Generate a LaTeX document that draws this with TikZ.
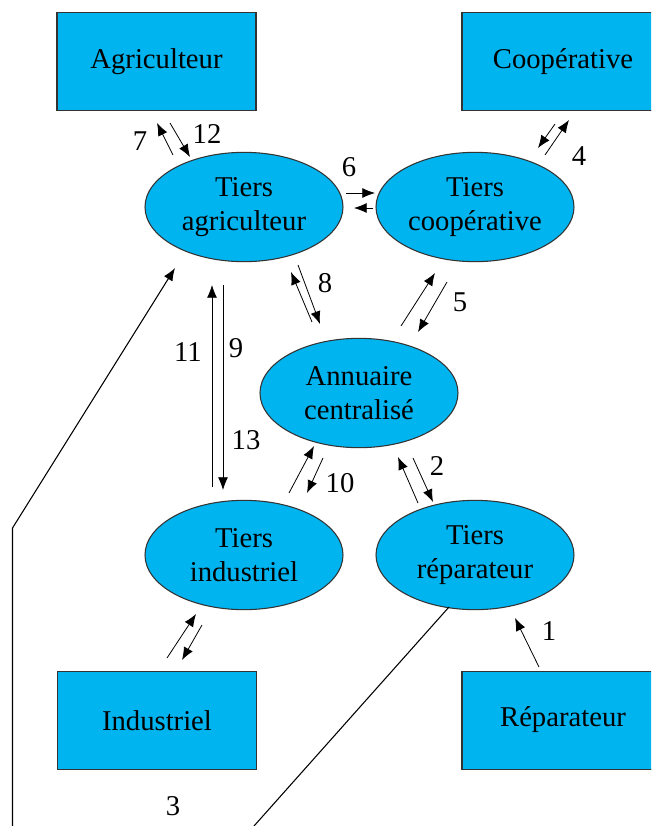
\documentclass[tikz,border=0pt]{standalone}
\usepackage{fontspec}
\setmainfont{Liberation Serif}
\newfontfamily\labelfont{Liberation Serif}
\usetikzlibrary{shapes.geometric,arrows.meta}
\definecolor{boxblue}{RGB}{0,180,240}
\tikzset{
  txt/.style={font=\labelfont\fontsize{21.5pt}{25pt}\selectfont},
  actor/.style={draw=black!80, line width=0.8pt, fill=boxblue, rectangle,
    minimum width=149.25pt, minimum height=73.5pt, inner sep=0pt, txt},
  party/.style={draw=black!80, line width=0.8pt, fill=boxblue, ellipse,
    minimum width=148.5pt, minimum height=82pt, inner sep=0pt, align=center, txt},
  num/.style={inner sep=0pt, txt},
  flow/.style={line width=0.6pt, -{Latex[length=9.5pt,width=7.5pt]}},
  wire/.style={line width=0.8pt}
}
\begin{document}
\begin{tikzpicture}[x=0.75pt, y=-0.75pt]
\useasboundingbox (0,0) rectangle (651,826);
\fill[white] (0,0) rectangle (651,826);
\clip (0,0) rectangle (651,826);

% actors (the right-hand boxes run past the page edge)
\node[actor] (agri) at (156.5,61.5) {Agriculteur};
\node[actor] (coop) at (561.5,61.5) {};
\node[num] (cooptext) at (563,62) {Coopérative};
\node[actor] (indus) at (157,720.5) {Industriel};
\node[actor] (repar) at (561.5,720.5) {};
\node[num] (repartext) at (563,720) {Réparateur};

% third parties and directory
\node[party] (tagri) at (244,207) {Tiers\\agriculteur};
\node[party] (tcoop) at (475,207) {Tiers\\coopérative};
\node[party] (annu) at (359,393) {Annuaire\\centralisé};
\node[party] (tind) at (244,555) {Tiers\\industriel};
\node[party] (trep) at (475,555) {Tiers\\réparateur};

% arrow end points
\coordinate (a7s) at (173,155);  \coordinate (a7e) at (157,123);
\coordinate (a12s) at (170,123); \coordinate (a12e) at (190,157);
\coordinate (a6s) at (346,193);  \coordinate (a6e) at (375,193);
\coordinate (b6s) at (373,208);  \coordinate (b6e) at (354,208);
\coordinate (a4s) at (555,124);  \coordinate (a4e) at (538,148);
\coordinate (b4s) at (545,155);  \coordinate (b4e) at (569,120);
\coordinate (a8s) at (312,322);  \coordinate (a8e) at (291,272);
\coordinate (b8s) at (298,265);  \coordinate (b8e) at (320,324);
\coordinate (a5s) at (401,326);  \coordinate (a5e) at (435,273);
\coordinate (b5s) at (447,282);  \coordinate (b5e) at (418,332);
\coordinate (a11s) at (212,487); \coordinate (a11e) at (212,285);
\coordinate (a9s) at (223,285);  \coordinate (a9e) at (223,490);
\coordinate (a10s) at (289,493); \coordinate (a10e) at (314,446);
\coordinate (b10s) at (323,458); \coordinate (b10e) at (307,493);
\coordinate (a2s) at (418,503);  \coordinate (a2e) at (398,457);
\coordinate (b2s) at (413,458);  \coordinate (b2e) at (433,502);
\coordinate (a1s) at (539,667);  \coordinate (a1e) at (515,618);
\coordinate (aiS) at (167,658);  \coordinate (aiE) at (196,614);
\coordinate (biS) at (202,625);  \coordinate (biE) at (182,660);
\coordinate (l3a) at (12.5,826); \coordinate (l3b) at (12.5,528);
\coordinate (l3c) at (175,268);
\coordinate (r3a) at (449,607);  \coordinate (r3b) at (254,826);

% exchanges
\draw[flow] (a7s) -- (a7e);
\draw[flow] (a12s) -- (a12e);
\draw[flow] (a6s) -- (a6e);
\draw[flow] (b6s) -- (b6e);
\draw[flow] (a4s) -- (a4e);
\draw[flow] (b4s) -- (b4e);
\draw[flow] (a8s) -- (a8e);
\draw[flow] (b8s) -- (b8e);
\draw[flow] (a5s) -- (a5e);
\draw[flow] (b5s) -- (b5e);
\draw[flow] (a11s) -- (a11e);
\draw[flow] (a9s) -- (a9e);
\draw[flow] (a10s) -- (a10e);
\draw[flow] (b10s) -- (b10e);
\draw[flow] (a2s) -- (a2e);
\draw[flow] (b2s) -- (b2e);
\draw[flow] (a1s) -- (a1e);
\draw[flow] (aiS) -- (aiE);
\draw[flow] (biS) -- (biE);
\draw[flow, line width=0.8pt] (l3a) -- (l3b) -- (l3c);
\draw[wire] (r3a) -- (r3b);

% step numbers
\node[num] (n7) at (140,141) {7};
\node[num] (n12) at (207,134) {12};
\node[num] (n6) at (349,167) {6};
\node[num] (n4) at (579,156) {4};
\node[num] (n8) at (325,283) {8};
\node[num] (n5) at (460,302) {5};
\node[num] (n11) at (188,352) {11};
\node[num] (n9) at (236,348) {9};
\node[num] (n13) at (246,440) {13};
\node[num] (n10) at (340,483) {10};
\node[num] (n2) at (437,466) {2};
\node[num] (n1) at (549,631) {1};
\node[num] (n3) at (173,806) {3};
\end{tikzpicture}
\end{document}
